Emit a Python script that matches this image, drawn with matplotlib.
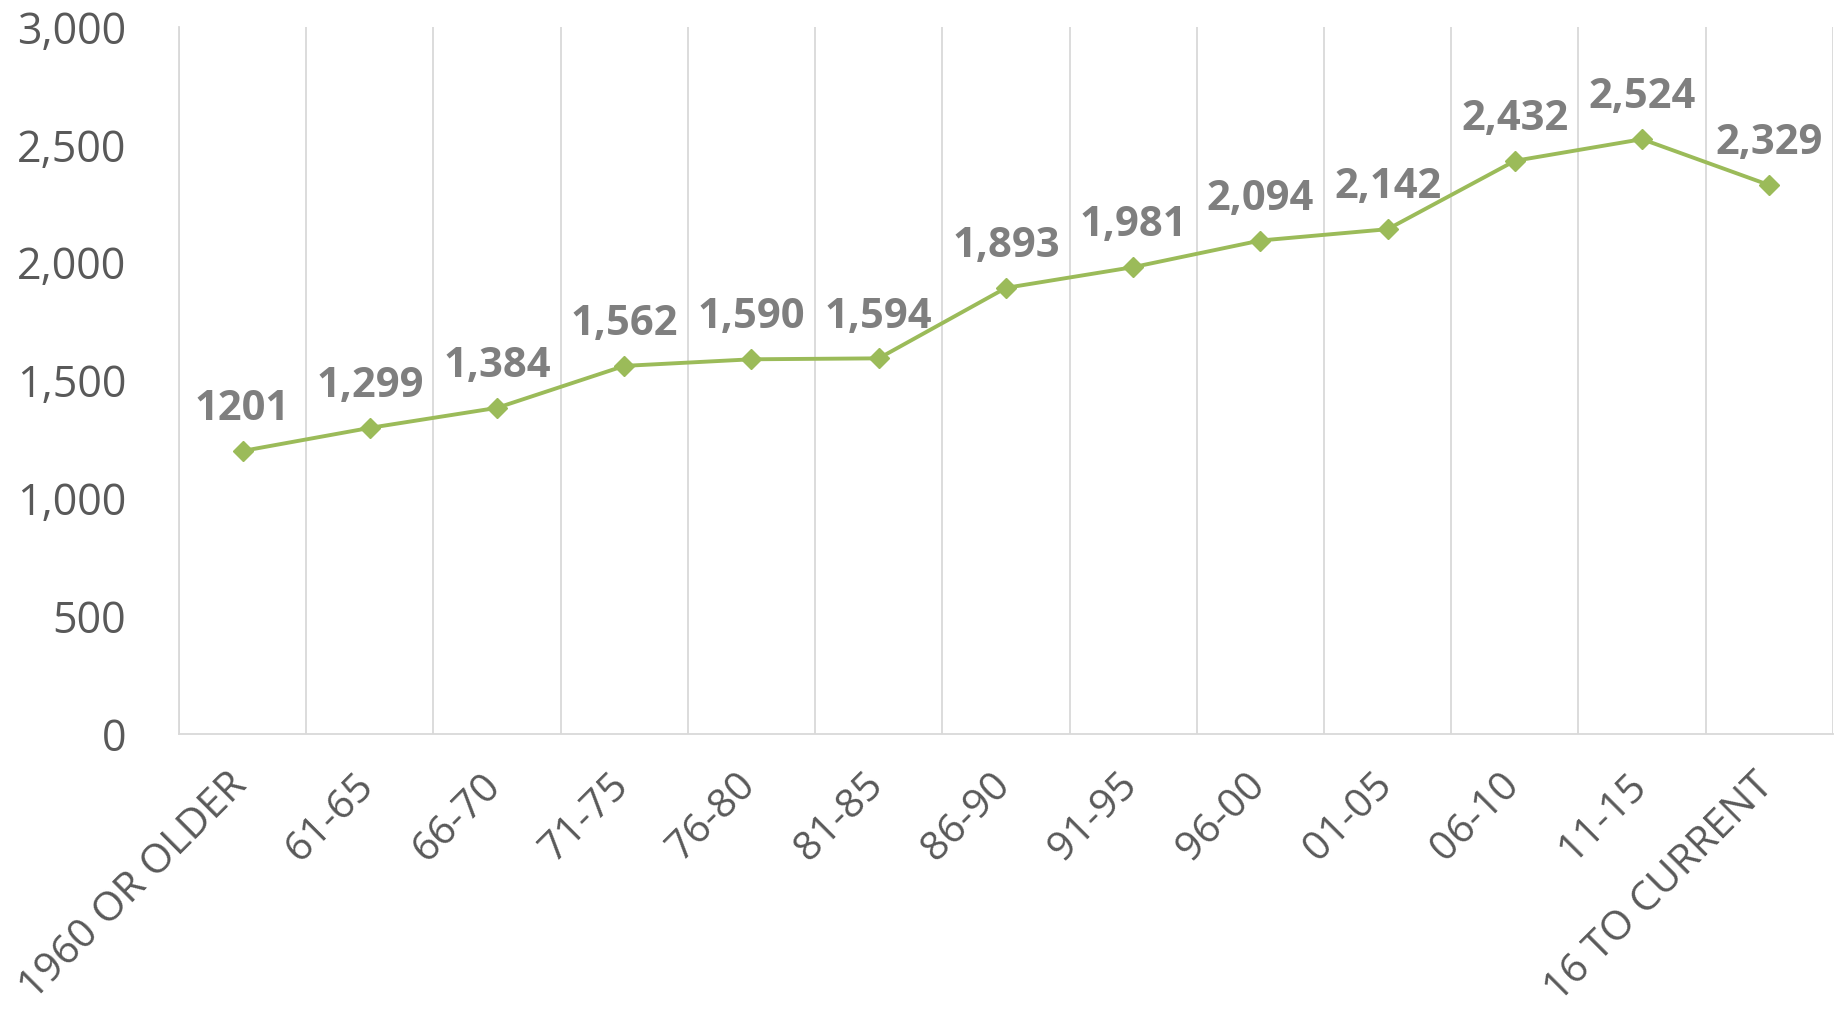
import matplotlib.pyplot as plt
import matplotlib.transforms as mtransforms
from matplotlib.ticker import FuncFormatter, MultipleLocator
import numpy as np

categories = ["1960 OR OLDER", "61-65", "66-70", "71-75", "76-80", "81-85", "86-90",
              "91-95", "96-00", "01-05", "06-10", "11-15", "16 TO CURRENT"]
values = [1201, 1299, 1384, 1562, 1590, 1594, 1893, 1981, 2094, 2142, 2432, 2524, 2329]
point_labels = ["1201", "1,299", "1,384", "1,562", "1,590", "1,594", "1,893",
                "1,981", "2,094", "2,142", "2,432", "2,524", "2,329"]

plt.rcParams['font.family'] = ['Open Sans', 'DejaVu Sans']

fig = plt.figure(figsize=(18.49, 10.14), dpi=100)
ax = fig.add_axes([0.0968, 0.2761, 0.8945, 0.6973])

x = np.arange(len(categories))
ax.plot(x, values, color='#9bbb59', linewidth=2.8, marker='D', markersize=10,
        markeredgecolor='#9bbb59', zorder=3)

for xi, v, lab in zip(x, values, point_labels):
    ax.annotate(lab, (xi, v), xytext=(0, 15), textcoords='offset points',
                ha='center', va='bottom', fontsize=30, fontweight='bold',
                color='#7f7f7f')

ax.set_xlim(-0.5, len(categories) - 0.5)
ax.set_ylim(0, 3000)
ax.yaxis.set_major_locator(MultipleLocator(500))
ax.yaxis.set_major_formatter(FuncFormatter(lambda v, p: f"{int(v):,}"))

# category labels drawn as text so they can be nudged like Excel's
ax.set_xticks(x)
ax.tick_params(axis='x', which='both', length=0, labelbottom=False)
offset = mtransforms.ScaledTranslation(-11.5 / 72, -22.5 / 72, fig.dpi_scale_trans)
for xi, cat in zip(x, categories):
    ax.text(xi, 0, cat, transform=ax.get_xaxis_transform() + offset,
            rotation=45, rotation_mode='anchor', ha='right', va='top',
            fontsize=29.5, color='#595959')

ax.set_xticks(np.arange(-0.5, len(categories)), minor=True)
ax.grid(True, which='minor', axis='x', color='#d9d9d9', linewidth=1.3)
ax.tick_params(axis='y', length=0, labelsize=31, labelcolor='#595959', pad=38)

for s in ['top', 'right']:
    ax.spines[s].set_visible(False)
for s in ['left', 'bottom']:
    ax.spines[s].set_color('#d9d9d9')
    ax.spines[s].set_linewidth(1.3)

fig.savefig("out.png", dpi=100)
